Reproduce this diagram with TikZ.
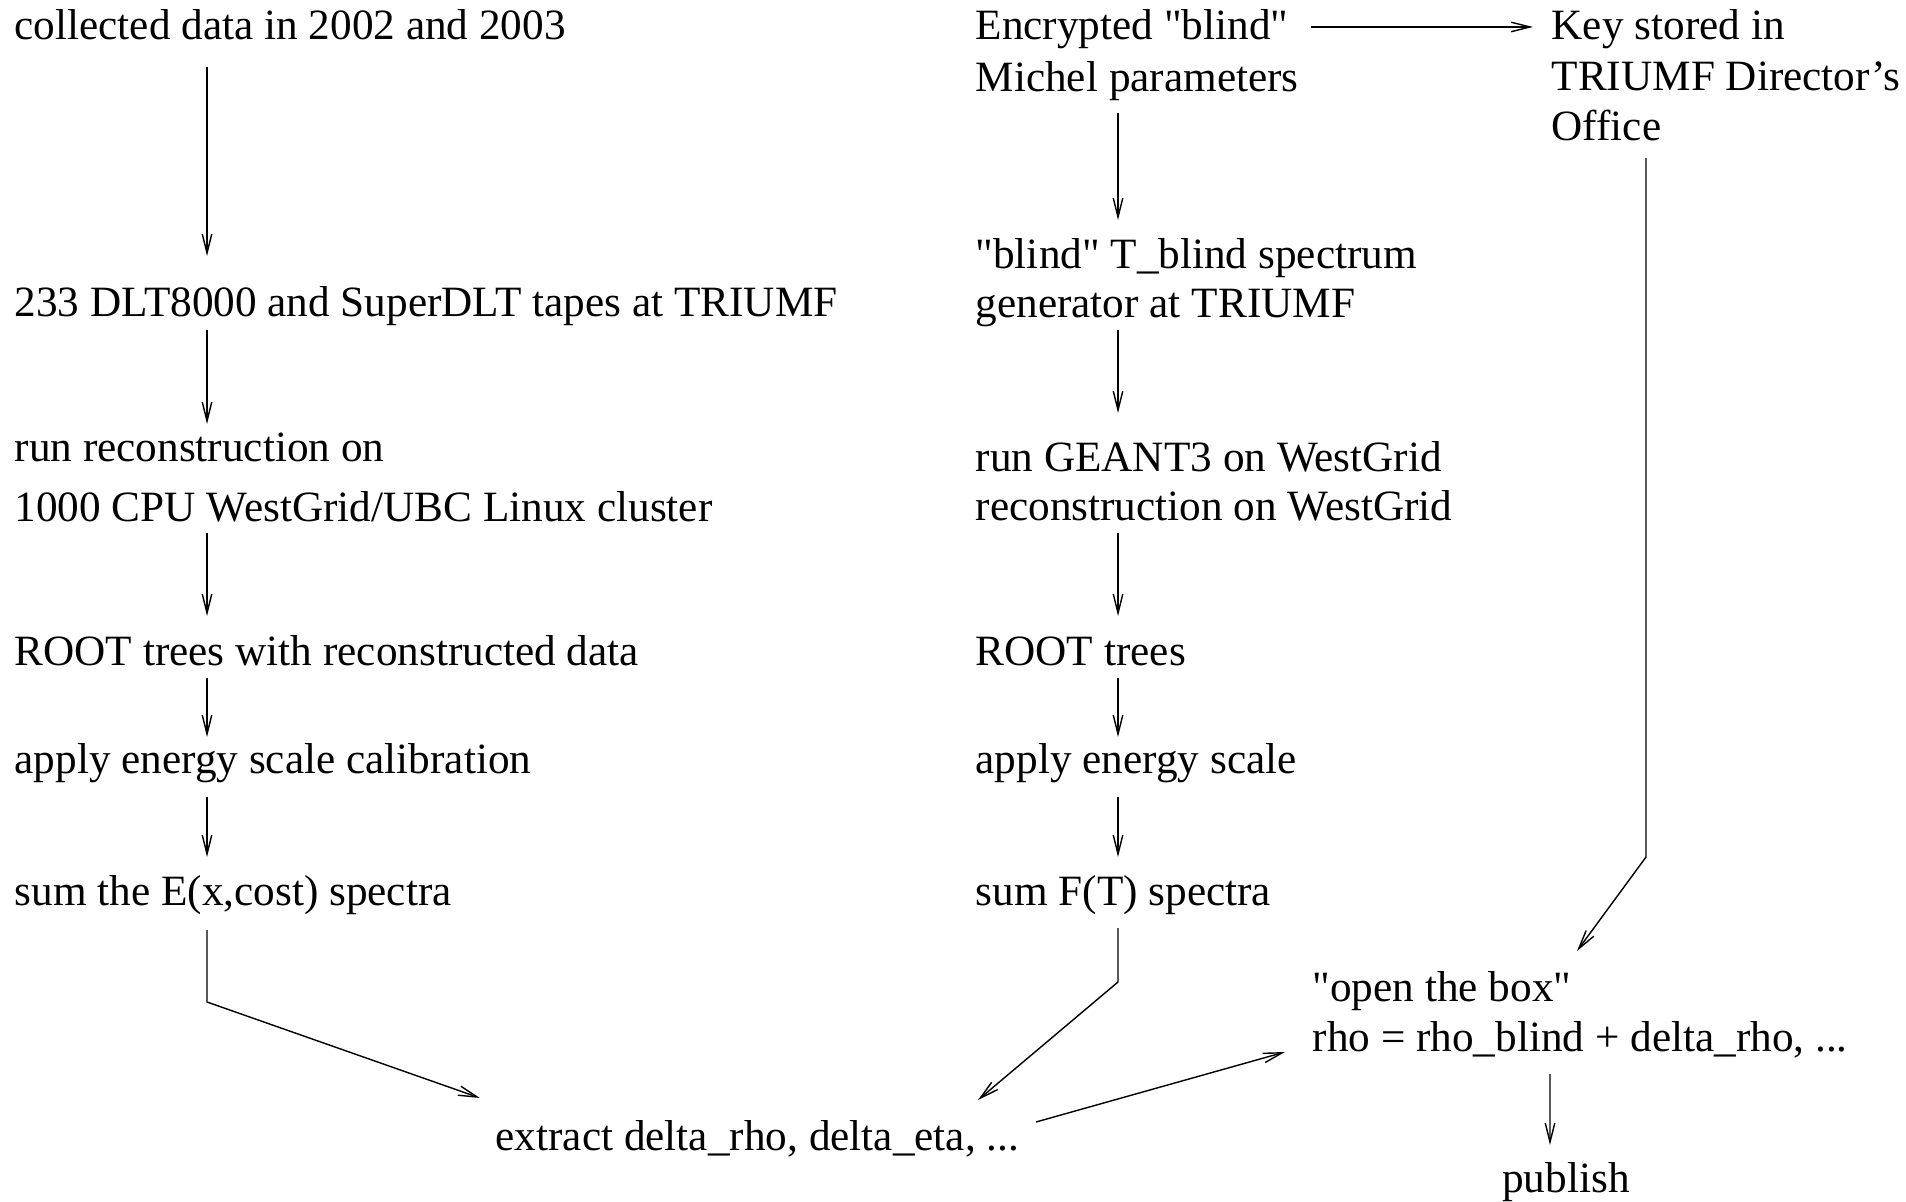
\documentclass[tikz,border=0pt]{standalone}
\usepackage{fontspec}
\setmainfont{Liberation Serif}[Ligatures=TeXOff]
\usepackage{tikz}
\usetikzlibrary{arrows.meta,positioning,calc}

\begin{document}
\begin{tikzpicture}[
  txt/.style={inner sep=0pt, anchor=base west, align=left, font=\fontsize{12.3}{14}\selectfont},
  arrow/.style={-{Straight Barb[length=1.9mm, width=0.95mm]}, line width=0.4pt}
]
  \useasboundingbox (0,0) rectangle (19.06,-12.02);

  % Data branch
  \node[txt] (collect) at (0.14,-0.40) {collected data in 2002 and 2003};
  \node[txt] (tapes) at (0.14,-3.17) {233 DLT8000 and SuperDLT tapes at TRIUMF};
  \node[txt] (recon) at (0.14,-5.22) {run reconstruction on\\[3.1pt]1000 CPU WestGrid/UBC Linux cluster};
  \node[txt] (trees) at (0.14,-6.66) {ROOT trees with reconstructed data};
  \node[txt] (escale) at (0.14,-7.73) {apply energy scale calibration};
  \node[txt] (esum) at (0.14,-9.05) {sum the E(x,cost) spectra};
  \draw[arrow] ([xshift=1.93cm, yshift=-0.27cm]collect.base west) -- ([xshift=1.93cm, yshift=0.61cm]tapes.base west);
  \draw[arrow] ([xshift=1.93cm, yshift=-0.13cm]tapes.base west) -- ([xshift=1.93cm, yshift=0.98cm]recon.base west);
  \draw[arrow] ([xshift=1.93cm, yshift=-0.11cm]recon.base west) -- ([xshift=1.93cm, yshift=0.50cm]trees.base west);
  \draw[arrow] ([xshift=1.93cm, yshift=-0.12cm]trees.base west) -- ([xshift=1.93cm, yshift=0.36cm]escale.base west);
  \draw[arrow] ([xshift=1.93cm, yshift=-0.24cm]escale.base west) -- ([xshift=1.93cm, yshift=0.48cm]esum.base west);

  % Monte Carlo branch
  \node[txt] (encrypt) at (9.75,-0.92) {Encrypted "blind"\\[0.8pt]Michel parameters};
  \node[txt] (tblind) at (9.75,-3.18) {"blind" T\_blind spectrum\\generator at TRIUMF};
  \node[txt] (geant) at (9.75,-5.21) {run GEANT3 on WestGrid\\reconstruction on WestGrid};
  \node[txt] (mctrees) at (9.75,-6.66) {ROOT trees};
  \node[txt] (mcscale) at (9.75,-7.73) {apply energy scale};
  \node[txt] (fsum) at (9.75,-9.05) {sum F(T) spectra};
  \draw[arrow] ([xshift=1.43cm, yshift=-0.21cm]encrypt.base west) -- ([xshift=1.43cm, yshift=0.98cm]tblind.base west);
  \draw[arrow] ([xshift=1.43cm, yshift=-0.12cm]tblind.base west) -- ([xshift=1.43cm, yshift=1.08cm]geant.base west);
  \draw[arrow] ([xshift=1.43cm, yshift=-0.12cm]geant.base west) -- ([xshift=1.43cm, yshift=0.50cm]mctrees.base west);
  \draw[arrow] ([xshift=1.43cm, yshift=-0.12cm]mctrees.base west) -- ([xshift=1.43cm, yshift=0.36cm]mcscale.base west);
  \draw[arrow] ([xshift=1.43cm, yshift=-0.24cm]mcscale.base west) -- ([xshift=1.43cm, yshift=0.48cm]fsum.base west);

  % Blind analysis
  \node[txt] (keystore) at (15.51,-1.41) {Key stored in\\[0.4pt]TRIUMF Director’s\\[0.4pt]Office};
  \node[txt] (extract) at (4.95,-11.50) {extract delta\_rho, delta\_eta, ...};
  \node[txt] (openbox) at (13.12,-10.51) {"open the box"\\[0.2pt]rho = rho\_blind + delta\_rho, ...};
  \node[txt, anchor=base] (publish) at (15.66,-11.92) {publish};
  \draw[arrow] ([xshift=1.93cm, yshift=-0.25cm]esum.base west) -- ([xshift=1.93cm, yshift=-0.97cm]esum.base west) -- ([xshift=-0.15cm, yshift=0.52cm]extract.base west);
  \draw[arrow] ([xshift=1.43cm, yshift=-0.23cm]fsum.base west) -- ([xshift=1.43cm, yshift=-0.77cm]fsum.base west) -- ([xshift=4.83cm, yshift=0.50cm]extract.base west);
  \draw[arrow] ([xshift=5.41cm, yshift=0.28cm]extract.base west) -- ([xshift=-0.27cm, yshift=-0.01cm]openbox.base west);
  \draw[arrow] ([xshift=3.36cm, yshift=0.65cm]encrypt.base west) -- ([xshift=-0.18cm, yshift=1.14cm]keystore.base west);
  \draw[arrow] ([xshift=0.95cm, yshift=-0.17cm]keystore.base west) -- ([xshift=0.95cm, yshift=-7.16cm]keystore.base west) -- ([xshift=2.65cm, yshift=1.00cm]openbox.base west);
  \draw[arrow] ([xshift=2.38cm, yshift=-0.23cm]openbox.base west) -- ([xshift=-0.16cm, yshift=0.47cm]publish.base);
\end{tikzpicture}
\end{document}
